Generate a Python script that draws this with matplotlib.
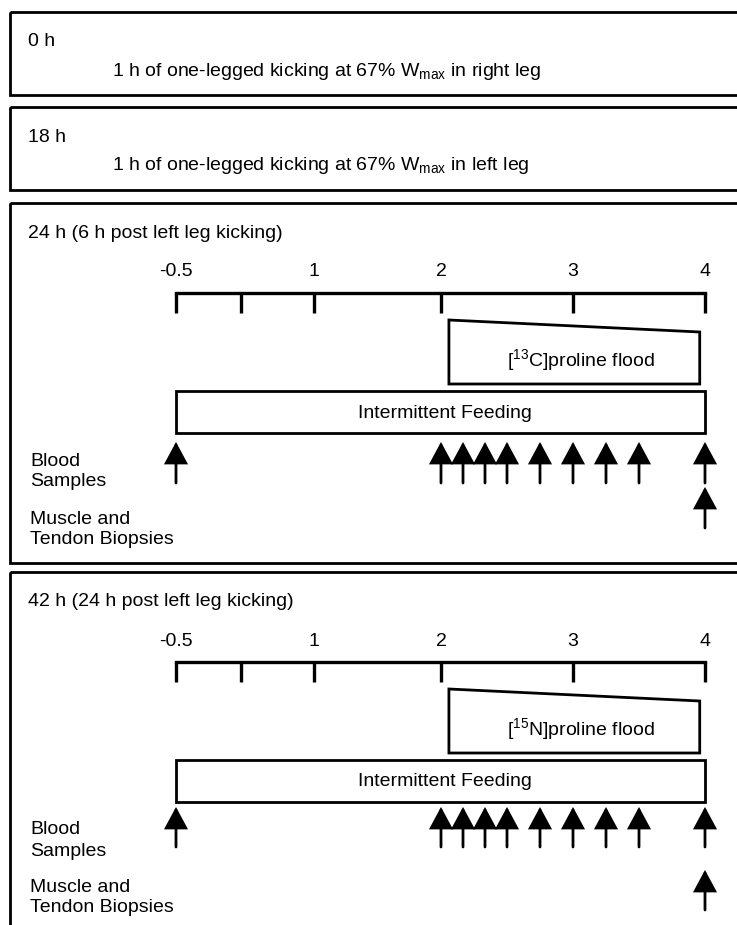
import numpy as np
import matplotlib
matplotlib.use('Agg')
import matplotlib.pyplot as plt
from matplotlib.patches import Rectangle, Polygon, FancyArrowPatch

plt.rcParams['font.family'] = ['Liberation Sans', 'DejaVu Sans']
plt.rcParams['mathtext.fontset'] = 'custom'
plt.rcParams['mathtext.rm'] = 'Liberation Sans'
plt.rcParams['mathtext.it'] = 'Liberation Sans:italic'
plt.rcParams['mathtext.default'] = 'regular'

# ---------------- data ----------------
session_times = ['0 h', '18 h']
session_texts = [r'1 h of one-legged kicking at 67% W$_{\rm max}$ in right leg',
                 r'1 h of one-legged kicking at 67% W$_{\rm max}$ in left leg']
panel_titles = ['24 h (6 h post left leg kicking)', '42 h (24 h post left leg kicking)']
flood_labels = [r'[$^{13}$C]proline flood', r'[$^{15}$N]proline flood']
tick_hours = [-0.5, 0, 1, 2, 3, 4]
tick_labels = ['-0.5', '', '1', '2', '3', '4']
feeding_hours = [-0.5, 4]
flood_hours = [2.06, 3.96]
blood_times = [-0.5, 2, 2 + 10/60, 2 + 20/60, 2.5, 2.75, 3, 3.25, 3.5, 4]
biopsy_times = [4]

# schematic (broken) time axis: pixel position of each tick
axis_px = [176, 241, 314, 441, 573, 705]

W, H = 737, 925
fig = plt.figure(figsize=(W/100, H/100), dpi=100)
ax = fig.add_axes([0, 0, 1, 1])
ax.set_xlim(0, W)
ax.set_ylim(H, 0)
ax.axis('off')

LW = 2.0
FS = 14

# session boxes
for top, bot, t, txt in [(12, 95, session_times[0], session_texts[0]),
                         (107, 190, session_times[1], session_texts[1])]:
    ax.add_patch(Rectangle((10, top), 760, bot - top, fill=False, lw=LW, ec='black'))
    ax.text(28, top + 30, t, fontsize=FS, va='center', ha='left')
    ax.text(112, top + 59, txt, fontsize=FS, va='center', ha='left')

def fwd(x):
    return np.interp(x, tick_hours, axis_px)

def inv(x):
    return np.interp(x, axis_px, tick_hours)

panels = [dict(top=203, bot=563, blood=(239, 280), biopsy=(284, 325)),
          dict(top=572, bot=940, blood=(235, 275), biopsy=(298, 338))]

for i, p in enumerate(panels):
    top = p['top']
    ax.add_patch(Rectangle((10, top), 760, p['bot'] - top, fill=False, lw=LW, ec='black'))
    ax.text(28, top + 30, panel_titles[i], fontsize=FS, va='center', ha='left')
    ax.text(30, top + 258, 'Blood', fontsize=FS, va='center', ha='left')
    ax.text(30, top + 279, 'Samples', fontsize=FS, va='center', ha='left')
    ax.text(30, top + 316, 'Muscle and', fontsize=FS, va='center', ha='left')
    ax.text(30, top + 336, 'Tendon Biopsies', fontsize=FS, va='center', ha='left')

    tax = fig.add_axes([axis_px[0]/W, 0, (axis_px[-1]-axis_px[0])/W, 1])
    tax.set_xscale('function', functions=(fwd, inv))
    tax.set_xlim(tick_hours[0], tick_hours[-1])
    tax.set_ylim(H, 0)
    tax.axis('off')
    tax.patch.set_alpha(0)

    # time axis
    y_ax = top + 90
    tax.plot([tick_hours[0], tick_hours[-1]], [y_ax, y_ax], color='black', lw=2.4,
             solid_capstyle='projecting', clip_on=False)
    for th, tl in zip(tick_hours, tick_labels):
        tax.plot([th, th], [y_ax, y_ax + 20], color='black', lw=2.4,
                 solid_capstyle='butt', clip_on=False)
        if tl:
            tax.text(th, top + 69, tl, fontsize=FS, ha='center', va='center')

    # flood shape
    f0, f1 = flood_hours
    poly = Polygon([(f0, top + 117), (f1, top + 129), (f1, top + 181), (f0, top + 181)],
                   closed=True, fill=False, lw=LW, ec='black', joinstyle='miter', clip_on=False)
    tax.add_patch(poly)
    tax.text(3.06, top + 157, flood_labels[i], fontsize=FS, ha='center', va='center')

    # feeding box
    a0, a1 = feeding_hours
    tax.add_patch(Rectangle((a0, top + 188), a1 - a0, 42, fill=False, lw=LW, ec='black',
                            clip_on=False))
    tax.text(2.03, top + 210, 'Intermittent Feeding', fontsize=FS, ha='center', va='center')

    # arrows
    def arrow(t, y_tip, y_tail):
        tax.add_patch(FancyArrowPatch((t, y_tail), (t, y_tip),
                                      arrowstyle='-|>,head_length=13,head_width=7',
                                      mutation_scale=1, lw=2.0, color='black',
                                      shrinkA=0, shrinkB=0, clip_on=False,
                                      joinstyle='miter'))
    for t in blood_times:
        arrow(t, top + p['blood'][0], top + p['blood'][1])
    for t in biopsy_times:
        arrow(t, top + p['biopsy'][0], top + p['biopsy'][1])

fig.savefig('out.png', dpi=100)
